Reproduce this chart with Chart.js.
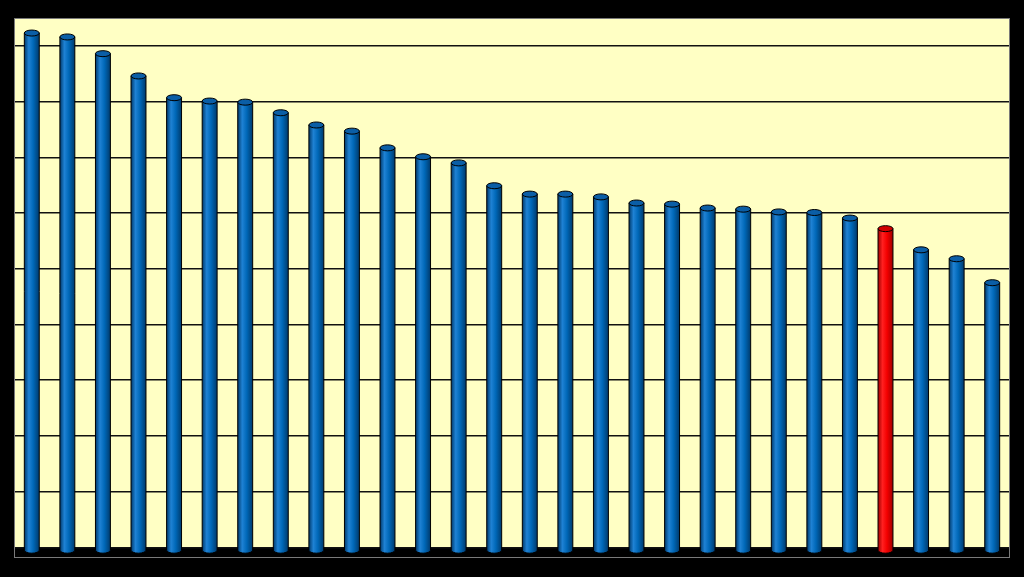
<!DOCTYPE html>
<html>
<head>
<meta charset="utf-8">
<script src="https://cdn.jsdelivr.net/npm/chart.js@4/dist/chart.umd.min.js"></script>
<style>
  html, body { margin: 0; padding: 0; background: #000; }
  #wrap { width: 1024px; height: 577px; }
</style>
</head>
<body>
<div id="wrap"><canvas id="c"></canvas></div>
<script>
// 28 ranked entries, no labels shown in the picture
const categories = ['1','2','3','4','5','6','7','8','9','10','11','12','13','14',
                    '15','16','17','18','19','20','21','22','23','24','25','26','27','28']
const values = [9.23, 9.16, 8.86, 8.46, 8.07, 8.01, 7.99, 7.80, 7.58, 7.47, 7.17, 7.01, 6.90, 6.49,
                6.34, 6.34, 6.29, 6.18, 6.16, 6.09, 6.07, 6.02, 6.01, 5.91, 5.72, 5.34, 5.18, 4.75]
const barColors = ['blue','blue','blue','blue','blue','blue','blue','blue','blue','blue','blue','blue','blue','blue',
                   'blue','blue','blue','blue','blue','blue','blue','blue','blue','blue','red','blue','blue','blue']
const gridTicks = [0, 1, 2, 3, 4, 5, 6, 7, 8, 9]

const shades = {
  blue: { dark: '#003a6c', light: '#1f82d4', mid: '#0068b8', top: '#0b5ea6' },
  red:  { dark: '#a00000', light: '#ff2020', mid: '#f40000', top: '#d00000' }
}

// yellow wall, black floor, grey frame
const backdrop = {
  id: 'backdrop',
  beforeDraw(chart) {
    const { ctx, chartArea: a, scales } = chart
    ctx.save()
    ctx.fillStyle = '#ffffc4'
    ctx.fillRect(a.left, a.top, a.right - a.left, a.bottom - a.top)
    const y0 = scales.y.getPixelForValue(0)
    ctx.fillStyle = '#000'
    ctx.fillRect(a.left, y0, a.right - a.left, a.bottom - y0)
    ctx.restore()
  },
  afterDraw(chart) {
    const { ctx, chartArea: a } = chart
    ctx.save()
    ctx.strokeStyle = '#7a7a7a'
    ctx.lineWidth = 1
    ctx.strokeRect(a.left + 0.5, a.top + 0.5, a.right - a.left - 1, a.bottom - a.top - 1)
    ctx.restore()
  }
}

// draw each bar as a cylinder on the element geometry
const cylinders = {
  id: 'cylinders',
  afterDatasetsDraw(chart) {
    const ctx = chart.ctx
    chart.getDatasetMeta(0).data.forEach((bar, i) => {
      const p = bar.getProps(['x', 'y', 'base', 'width'], true)
      const s = shades[barColors[i]]
      const rx = p.width / 2, ry = 3
      const l = p.x - rx, r = p.x + rx
      ctx.save()
      const g = ctx.createLinearGradient(l, 0, r, 0)
      g.addColorStop(0, s.dark)
      g.addColorStop(0.3, s.light)
      g.addColorStop(0.6, s.mid)
      g.addColorStop(1, s.dark)
      ctx.beginPath()
      ctx.moveTo(l, p.y)
      ctx.lineTo(l, p.base)
      ctx.ellipse(p.x, p.base, rx, ry, 0, Math.PI, 0, true)
      ctx.lineTo(r, p.y)
      ctx.closePath()
      ctx.fillStyle = g
      ctx.fill()
      ctx.strokeStyle = '#000'
      ctx.lineWidth = 1
      ctx.stroke()
      ctx.beginPath()
      ctx.ellipse(p.x, p.y, rx, ry, 0, 0, Math.PI * 2)
      ctx.fillStyle = s.top
      ctx.fill()
      ctx.stroke()
      ctx.restore()
    })
  }
}

new Chart(document.getElementById('c'), {
  type: 'bar',
  data: {
    labels: categories,
    datasets: [{
      data: values,
      base: -0.05,
      backgroundColor: 'rgba(0,0,0,0)',
      borderWidth: 0,
      categoryPercentage: 1,
      barPercentage: 0.42
    }]
  },
  options: {
    responsive: true,
    maintainAspectRatio: false,
    animation: false,
    layout: { padding: { left: 14, right: 14, top: 18, bottom: 19 } },
    plugins: { legend: { display: false }, tooltip: { enabled: false } },
    scales: {
      x: { display: false },
      y: {
        min: -0.19,
        max: 9.5,
        afterBuildTicks: axis => { axis.ticks = gridTicks.map(v => ({ value: v })) },
        ticks: { display: false },
        border: { display: false },
        grid: { color: '#111', lineWidth: 1.5, drawTicks: false }
      }
    }
  },
  plugins: [backdrop, cylinders]
})
</script>
</body>
</html>
